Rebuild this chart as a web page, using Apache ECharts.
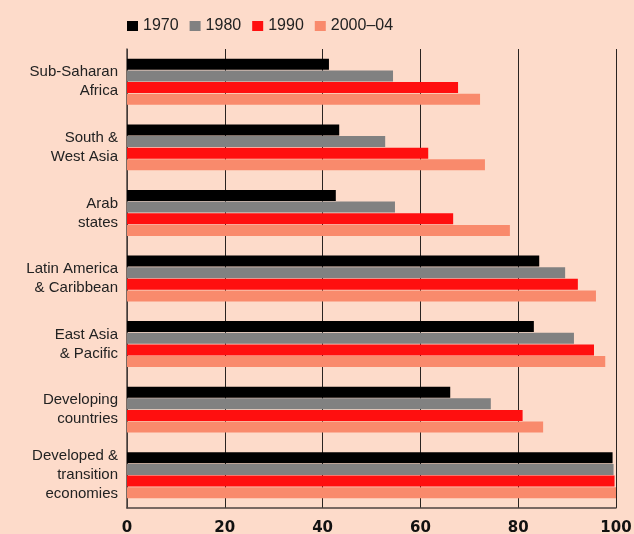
<!DOCTYPE html>
<html>
<head>
<meta charset="utf-8">
<script src="https://cdn.jsdelivr.net/npm/echarts@6/dist/echarts.min.js"></script>
<style>
  html, body { margin: 0; padding: 0; background: #fddbca; }
  #chart { width: 634px; height: 534px; }
</style>
</head>
<body>
<div id="chart"></div>
<script>
var regions = ['Sub-Saharan\nAfrica', 'South &\nWest Asia', 'Arab\nstates', 'Latin America\n& Caribbean',
  'East Asia\n& Pacific', 'Developing\ncountries', 'Developed &\ntransition\neconomies'];
var years = ['1970', '1980', '1990', '2000–04'];
var v1970 = [41.3, 43.4, 42.7, 84.3, 83.2, 66.1, 99.3];
var v1980 = [54.4, 52.8, 54.8, 89.6, 91.4, 74.4, 99.5];
var v1990 = [67.7, 61.6, 66.7, 92.2, 95.5, 80.9, 99.7];
var v2000 = [72.2, 73.2, 78.3, 95.9, 97.8, 85.1, 100];
var xTicks = [0, 20, 40, 60, 80, 100];

var colors = ['#000000', '#818181', '#ff0f0f', '#f98a6c'];
var values = [v1970, v1980, v1990, v2000];

var chartDom = document.getElementById('chart');
var myChart = echarts.init(chartDom);
var option;

var series = years.map(function (y, i) {
  return {
    name: y,
    type: 'bar',
    data: values[i],
    barGap: '6%',
    barCategoryGap: '30%',
    itemStyle: { color: colors[i] }
  };
});

option = {
  backgroundColor: '#fddbca',
  color: colors,
  legend: {
    top: 13,
    left: 122,
    itemWidth: 11,
    itemHeight: 10,
    itemGap: 11,
    icon: 'rect',
    textStyle: { fontFamily: 'Liberation Sans', fontSize: 16, color: '#222' },
    data: years
  },
  grid: { left: 127, right: 18, top: 49, bottom: 26, outerBoundsMode: 'none' },
  xAxis: {
    type: 'value',
    min: xTicks[0],
    max: xTicks[xTicks.length - 1],
    interval: 20,
    axisLine: { show: true, lineStyle: { color: '#4d4441', width: 1.5 } },
    axisTick: { show: false },
    axisLabel: { fontFamily: 'DejaVu Sans', fontWeight: 'bold', fontSize: 15, color: '#111', margin: 13 },
    splitLine: { show: true, lineStyle: { color: '#2a2320', width: 1 } }
  },
  yAxis: {
    type: 'category',
    inverse: true,
    data: regions,
    axisLine: { show: true, lineStyle: { color: '#4d4441', width: 1.5 } },
    axisTick: { show: false },
    axisLabel: { fontFamily: 'Liberation Sans', fontSize: 15, lineHeight: 19, color: '#222', margin: 9, align: 'right' }
  },
  series: series
};

option && myChart.setOption(option);
</script>
</body>
</html>
